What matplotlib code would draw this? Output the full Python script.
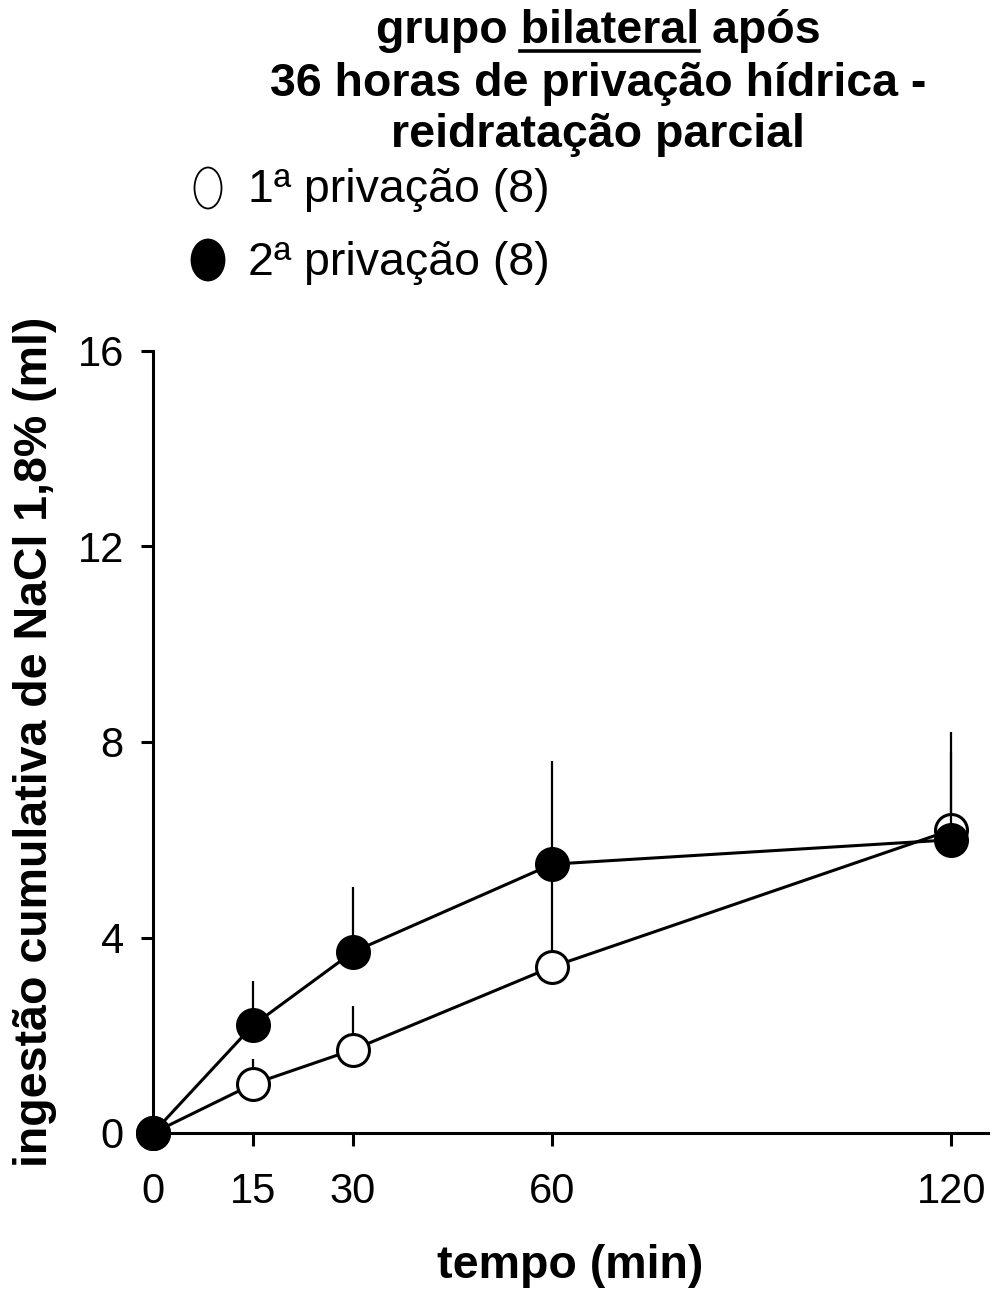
import matplotlib
matplotlib.use('Agg')
import matplotlib.pyplot as plt
from matplotlib.patches import Ellipse

# dados
tempo = [0, 15, 30, 60, 120]
priv1 = [0, 1.0, 1.7, 3.4, 6.2]
priv1_err = [0, 0.52, 0.9, 1.9, 1.6]
priv2 = [0, 2.2, 3.7, 5.5, 6.0]
priv2_err = [0, 0.9, 1.33, 2.12, 2.2]
yticks = [0, 4, 8, 12, 16]

plt.rcParams['font.family'] = ['Liberation Sans', 'DejaVu Sans']

W, H = 993, 1289
fig = plt.figure(figsize=(W / 100, H / 100), dpi=100)

def fx(px):
    return px / W
def fy(py):
    return 1 - py / H

ax = fig.add_axes([fx(153), fy(1133), fx(988) - fx(153), fy(351) - fy(1133)])

lw = 2.2
# 1a privacao (aberto) primeiro, fica atras
ax.errorbar(tempo, priv1, yerr=[[0] * len(priv1_err), priv1_err], fmt='none',
            ecolor='black', elinewidth=1.6, capsize=0, zorder=2, clip_on=False)
ax.plot(tempo, priv1, '-o', color='black', lw=lw, ms=23, mfc='white', mec='black',
        mew=2.2, zorder=3, clip_on=False)
ax.errorbar(tempo, priv2, yerr=[[0] * len(priv2_err), priv2_err], fmt='none',
            ecolor='black', elinewidth=1.6, capsize=0, zorder=4, clip_on=False)
ax.plot(tempo, priv2, '-o', color='black', lw=lw, ms=23, mfc='black', mec='black',
        mew=2.2, zorder=5, clip_on=False)

ax.set_xlim(0, 125.5)
ax.set_ylim(0, 16)
ax.set_xticks(tempo)
ax.set_yticks(yticks)
ax.spines['top'].set_visible(False)
ax.spines['right'].set_visible(False)
for s in ['left', 'bottom']:
    ax.spines[s].set_linewidth(2.2)
ax.tick_params(direction='out', length=9, width=2.2, labelsize=30, pad=12)
ax.tick_params(axis='x', pad=19)

ax.set_xlabel('tempo (min)', fontsize=33.5, fontweight='bold', labelpad=23)
ax.set_ylabel('ingestão cumulativa de NaCl 1,8% (ml)', fontsize=33.5, fontweight='bold',
              labelpad=15)

# titulo em tres linhas, "bilateral" sublinhado
tsize = 33.5
cx = fx(598)
fig.text(cx, fy(31), 'grupo bilateral após', ha='center', va='center', fontsize=tsize,
         fontweight='bold')
fig.text(cx, fy(84), '36 horas de privação hídrica -', ha='center', va='center',
         fontsize=tsize, fontweight='bold')
fig.text(cx, fy(135), 'reidratação parcial', ha='center', va='center', fontsize=tsize,
         fontweight='bold')

fig.canvas.draw()
r = fig.canvas.get_renderer()
def width(s):
    t = fig.text(0, 0, s, fontsize=tsize, fontweight='bold')
    w = t.get_window_extent(r).width
    t.remove()
    return w
full = width('grupo bilateral após')
x0 = 598 - full / 2
a = x0 + width('grupo ')
b = x0 + width('grupo bilateral')
fig.add_artist(plt.Line2D([fx(a), fx(b)], [fy(51), fy(51)], color='black', lw=2.6))

# legenda
fig.add_artist(Ellipse((fx(208), fy(188)), fx(27), 41 / H, facecolor='white',
                       edgecolor='black', lw=1.3))
fig.add_artist(Ellipse((fx(208), fy(260)), fx(33), 41 / H, facecolor='black',
                       edgecolor='black', lw=1.3))
fig.text(fx(248), fy(190), '1ª privação (8)', ha='left', va='center', fontsize=33.5)
fig.text(fx(248), fy(263), '2ª privação (8)', ha='left', va='center', fontsize=33.5)

fig.savefig('out.png', dpi=100)
